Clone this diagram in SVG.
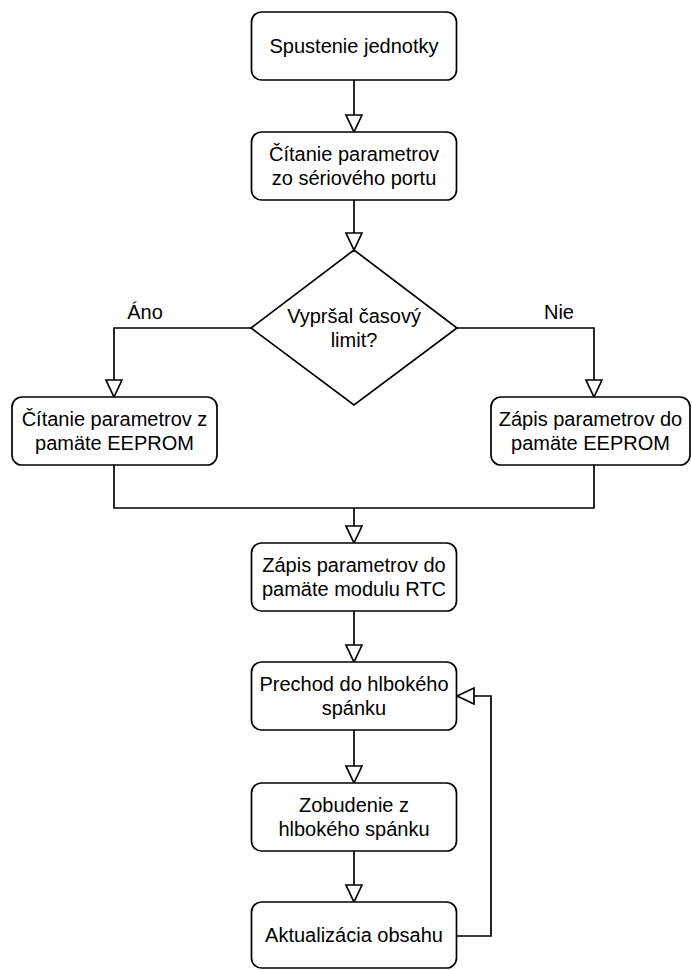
<svg xmlns="http://www.w3.org/2000/svg" width="692" height="970" viewBox="0 0 692 970">
<style>
.n{fill:#fff;stroke:#000;stroke-width:1.7}
.t{font-family:"Liberation Sans",Arial,Helvetica,sans-serif;font-size:20px;fill:#000;text-anchor:middle}
.c{fill:none;stroke:#000;stroke-width:1.7}
</style>
<defs>
<marker id="a" markerUnits="userSpaceOnUse" markerWidth="20" markerHeight="20" viewBox="0 0 20 20" refX="18" refY="9" orient="auto">
<path d="M1,1 L18,9 L1,17 Z" fill="#fff" stroke="#000" stroke-width="1.7"/>
</marker>
</defs>
<rect width="692" height="970" fill="#fff"/>
<g id="connectors">
<path class="c" d="M354,80 V132" marker-end="url(#a)"/>
<path class="c" d="M354,200 V250" marker-end="url(#a)"/>
<path class="c" d="M251,328 H114 V397" marker-end="url(#a)"/>
<path class="c" d="M457,328 H594 V397" marker-end="url(#a)"/>
<path class="c" d="M114,465 V508 H594 V465"/>
<path class="c" d="M354,508 V543" marker-end="url(#a)"/>
<path class="c" d="M354,611 V662" marker-end="url(#a)"/>
<path class="c" d="M354,730 V783" marker-end="url(#a)"/>
<path class="c" d="M354,851 V902" marker-end="url(#a)"/>
<path class="c" d="M456,936 H491 V696 H457" marker-end="url(#a)"/>
<text class="t" x="145" y="319">Áno</text>
<text class="t" x="559" y="319">Nie</text>
</g>
<g id="start">
<rect class="n" x="251.5" y="12" width="205" height="68" rx="10"/>
<text class="t" x="354" y="53">Spustenie jednotky</text>
</g>
<g id="read-serial">
<rect class="n" x="251.5" y="132" width="205" height="68" rx="10"/>
<text class="t" x="354" y="161">Čítanie parametrov</text>
<text class="t" x="354" y="185">zo sériového portu</text>
</g>
<g id="timeout">
<path class="n" d="M354,250 L457,328 L354,405 L251,328 Z"/>
<text class="t" x="354" y="323">Vypršal časový</text>
<text class="t" x="354" y="347">limit?</text>
</g>
<g id="read-eeprom">
<rect class="n" x="12" y="397" width="205" height="68" rx="10"/>
<text class="t" x="114.5" y="426">Čítanie parametrov z</text>
<text class="t" x="114.5" y="450">pamäte EEPROM</text>
</g>
<g id="write-eeprom">
<rect class="n" x="491" y="397" width="199" height="68" rx="10"/>
<text class="t" x="590.5" y="426">Zápis parametrov do</text>
<text class="t" x="590.5" y="450">pamäte EEPROM</text>
</g>
<g id="write-rtc">
<rect class="n" x="251.5" y="543" width="205" height="68" rx="10"/>
<text class="t" x="354" y="572">Zápis parametrov do</text>
<text class="t" x="354" y="596">pamäte modulu RTC</text>
</g>
<g id="sleep">
<rect class="n" x="251.5" y="662" width="205" height="68" rx="10"/>
<text class="t" x="354" y="691">Prechod do hlbokého</text>
<text class="t" x="354" y="715">spánku</text>
</g>
<g id="wake">
<rect class="n" x="251.5" y="783" width="205" height="68" rx="10"/>
<text class="t" x="354" y="812">Zobudenie z</text>
<text class="t" x="354" y="836">hlbokého spánku</text>
</g>
<g id="update">
<rect class="n" x="251.5" y="902" width="205" height="66" rx="10"/>
<text class="t" x="354" y="942">Aktualizácia obsahu</text>
</g>
</svg>
